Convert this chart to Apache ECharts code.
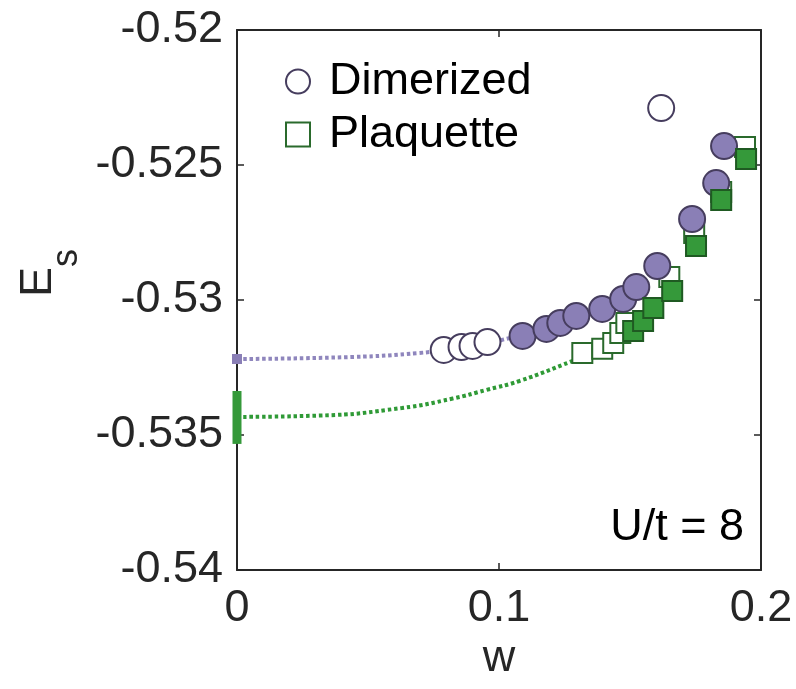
<!DOCTYPE html>
<html>
<head>
<meta charset="utf-8">
<script src="https://cdn.jsdelivr.net/npm/echarts@6/dist/echarts.min.js"></script>
<style>
  html, body { margin: 0; padding: 0; background: #fff; }
  #chart { width: 796px; height: 689px; }
</style>
</head>
<body>
<div id="chart"></div>
<script>
// Singlet energy E_s versus w at U/t = 8

// Axis ranges and ticks
const xTicks = [0, 0.1, 0.2];
const yTicks = [-0.54, -0.535, -0.53, -0.525, -0.52];

// Dimerized: open symbols (not in fit) and filled symbols (fitted)
const dimOpen = [
  [0.0789, -0.53185], [0.0857, -0.53174], [0.0899, -0.53170], [0.0956, -0.53156],
  [0.1619, -0.52289]
];
const dimFilled = [
  [0.1090, -0.53133], [0.1181, -0.53107], [0.1234, -0.53085], [0.1295, -0.53059],
  [0.1394, -0.53033], [0.1474, -0.52996], [0.1524, -0.52952], [0.1604, -0.52874],
  [0.1737, -0.52700], [0.1829, -0.52567], [0.1859, -0.52430]
];

// Plaquette: open and filled symbols
const plaqOpen = [
  [0.1318, -0.53196], [0.1394, -0.53181], [0.1436, -0.53159], [0.1463, -0.53122],
  [0.1486, -0.53085], [0.1650, -0.52915], [0.1745, -0.52752], [0.1848, -0.52600],
  [0.1939, -0.52433]
];
const plaqFilled = [
  [0.1512, -0.53115], [0.1550, -0.53078], [0.1589, -0.53030], [0.1661, -0.52967],
  [0.1752, -0.52800], [0.1848, -0.52630], [0.1943, -0.52478]
];

// Fit curves, extrapolated to w = 0
const dimFit = [
  [0, -0.532185], [0.0442, -0.53211], [0.0697, -0.53196], [0.0823, -0.53181],
  [0.0956, -0.53159], [0.1040, -0.53141]
];
const plaqFit = [
  [0, -0.53433], [0.0316, -0.53428], [0.0629, -0.53400], [0.0823, -0.53365],
  [0.0952, -0.53333], [0.1078, -0.53300], [0.1280, -0.53226], [0.1383, -0.53185],
  [0.1459, -0.53141]
];

// Extrapolated values at w = 0
const dimExtrap = [[0, -0.532185]];
const plaqExtrap = [[0, -0.53337], [0, -0.53533]];

const PURPLE = '#8a7fb6';
const PURPLE_EDGE = '#463d5e';
const GREEN = '#35993a';
const GREEN_EDGE = '#1f5a22';
const INK = '#262626';
const FONT = 'Liberation Sans, Arial, Helvetica, sans-serif';
const FS = 45;

const chart = echarts.init(document.getElementById('chart'), null, { renderer: 'canvas' });

const baseX = {
  type: 'value', min: 0, max: 0.2, interval: 0.1,
  axisLine: { show: true, onZero: false, lineStyle: { color: INK, width: 2 } },
  axisTick: { show: true, inside: true, length: 7, lineStyle: { color: INK, width: 1.5 } },
  splitLine: { show: false }
};
const baseY = {
  type: 'value', min: -0.54, max: -0.52, interval: 0.005,
  axisLine: { show: true, onZero: false, lineStyle: { color: INK, width: 2 } },
  axisTick: { show: true, inside: true, length: 7, lineStyle: { color: INK, width: 1.5 } },
  splitLine: { show: false }
};

const dotted = (color) => ({ color: color, width: 4, type: [3.5, 2.8], cap: 'butt' });

chart.setOption({
  animation: false,
  backgroundColor: '#fff',
  grid: { left: 237, right: 35, top: 30, bottom: 119, containLabel: false },
  xAxis: [
    Object.assign({}, baseX, {
      position: 'bottom',
      name: 'w', nameLocation: 'middle', nameGap: 59,
      nameTextStyle: { fontFamily: FONT, fontSize: FS, color: INK },
      axisLabel: {
        show: true, margin: 16, fontFamily: FONT, fontSize: FS, color: INK,
        formatter: (v) => (xTicks.some(t => Math.abs(t - v) < 1e-9) ? String(+v.toFixed(3)) : '')
      }
    }),
    Object.assign({}, baseX, { position: 'top', axisLabel: { show: false } })
  ],
  yAxis: [
    Object.assign({}, baseY, {
      position: 'left',
      axisLabel: {
        show: true, margin: 14, fontFamily: FONT, fontSize: FS, color: INK,
        formatter: (v) => (yTicks.some(t => Math.abs(t - v) < 1e-9) ? String(+v.toFixed(3)) : '')
      }
    }),
    Object.assign({}, baseY, { position: 'right', axisLabel: { show: false } })
  ],
  legend: {
    orient: 'vertical', left: 285, top: 59, padding: 0, itemGap: 8,
    itemWidth: 24, itemHeight: 24,
    textStyle: { fontFamily: FONT, fontSize: FS, color: '#000', padding: [0, 0, 0, 14] },
    data: ['Dimerized', 'Plaquette']
  },
  series: [
    {
      name: 'dimFit', type: 'line', data: dimFit, smooth: true, symbol: 'none',
      lineStyle: dotted('#8f86bd'), silent: true, z: 1
    },
    {
      name: 'plaqFit', type: 'line', data: plaqFit, smooth: true, symbol: 'none',
      lineStyle: dotted('#2f9a36'), silent: true, z: 1
    },
    {
      name: 'dimExtrap', type: 'line', data: dimExtrap, clip: false, showSymbol: true,
      symbol: 'rect', symbolSize: 10, itemStyle: { color: PURPLE, borderWidth: 0 },
      lineStyle: { width: 0 }, z: 6
    },
    {
      name: 'plaqExtrap', type: 'line', data: plaqExtrap, clip: false, symbol: 'none',
      lineStyle: { color: GREEN, width: 9, cap: 'butt' }, z: 6
    },
    {
      name: 'Plaquette', type: 'scatter', data: plaqOpen, symbol: 'rect', symbolSize: 20,
      itemStyle: { color: '#fff', borderColor: '#2a6a2c', borderWidth: 2, opacity: 1 }, z: 2
    },
    {
      name: 'Dimerized', type: 'scatter', data: dimOpen, symbol: 'circle', symbolSize: 26,
      itemStyle: { color: '#fff', borderColor: PURPLE_EDGE, borderWidth: 2, opacity: 1 }, z: 3
    },
    {
      name: 'Dimerized fitted', type: 'scatter', data: dimFilled, symbol: 'circle', symbolSize: 26,
      itemStyle: { color: PURPLE, borderColor: PURPLE_EDGE, borderWidth: 2, opacity: 1 }, z: 4
    },
    {
      name: 'Plaquette fitted', type: 'scatter', data: plaqFilled, symbol: 'rect', symbolSize: 20,
      itemStyle: { color: GREEN, borderColor: GREEN_EDGE, borderWidth: 2, opacity: 1 }, z: 5
    }
  ],
  graphic: [
    {
      type: 'text', right: 52, top: 505, z: 10,
      style: { text: 'U/t = 8', fontFamily: FONT, fontSize: FS, fill: '#000' }
    },
    {
      type: 'text', x: 39, y: 282, rotation: Math.PI / 2, z: 10,
      style: { text: 'E', fontFamily: FONT, fontSize: FS, fill: INK, align: 'center', verticalAlign: 'middle' }
    },
    {
      type: 'text', x: 67, y: 258, rotation: Math.PI / 2, z: 10,
      style: { text: 's', fontFamily: FONT, fontSize: 36, fill: INK, align: 'center', verticalAlign: 'middle' }
    }
  ]
});
</script>
</body>
</html>
